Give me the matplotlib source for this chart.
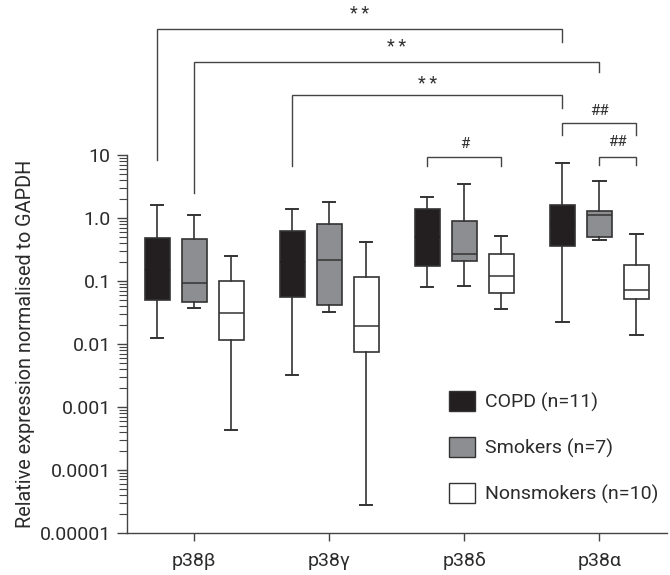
import matplotlib
matplotlib.use("Agg")
import matplotlib.pyplot as plt
from matplotlib.patches import Patch

plt.rcParams['font.family'] = ['Roboto', 'DejaVu Sans']

genes = ['p38β', 'p38γ', 'p38δ', 'p38α']
groups = ['COPD (n=11)', 'Smokers (n=7)', 'Nonsmokers (n=10)']

copd_whishi = [1.58, 1.39, 2.15, 7.46]
copd_q3 = [0.48, 0.61, 1.39, 1.62]
copd_med = [0.15, 0.20, 0.50, 0.80]
copd_q1 = [0.0495, 0.0545, 0.17, 0.353]
copd_whislo = [0.0126, 0.00318, 0.0796, 0.0221]

smk_whishi = [1.10, 1.81, 3.5, 3.86]
smk_q3 = [0.46, 0.80, 0.90, 1.29]
smk_med = [0.091, 0.214, 0.267, 1.10]
smk_q1 = [0.0466, 0.0417, 0.206, 0.502]
smk_whislo = [0.0365, 0.0315, 0.0836, 0.45]

non_whishi = [0.25, 0.414, 0.515, 0.555]
non_q3 = [0.098, 0.115, 0.264, 0.18]
non_med = [0.0311, 0.0191, 0.118, 0.0706]
non_q1 = [0.0117, 0.0073, 0.0647, 0.0519]
non_whislo = [0.000435, 2.8e-5, 0.0352, 0.0139]

# significance brackets: (gene, group) left, (gene, group) right,
# y top, y left end, y right end, label, label y
brackets = [
    ((0, 0), (3, 0), 1000, 8.3, 620, '**', 1740),
    ((0, 1), (3, 1), 300, 2.5, 207, '**', 525),
    ((1, 0), (3, 0), 91, 6.7, 55, '**', 133),
    ((3, 0), (3, 2), 31.9, 20.8, 20.8, '##', 50),
    ((2, 0), (2, 2), 9.2, 6.7, 6.7, '#', 14.8),
    ((3, 1), (3, 2), 9.2, 6.9, 6.9, '##', 16.3),
]

ytick_vals = [1e-5, 1e-4, 1e-3, 1e-2, 1e-1, 1, 10]
ytick_labels = ['0.00001', '0.0001', '0.001', '0.01', '0.1', '1.0', '10']

series = [
    (copd_whislo, copd_q1, copd_med, copd_q3, copd_whishi, '#231f20'),
    (smk_whislo, smk_q1, smk_med, smk_q3, smk_whishi, '#8d8e91'),
    (non_whislo, non_q1, non_med, non_q3, non_whishi, '#ffffff'),
]
offsets = [-0.274, 0.0, 0.274]

edge = '#333333'
fig = plt.figure(figsize=(6.7, 5.75), dpi=100)
ax = fig.add_axes([0.189, 0.0736, 0.8065, 0.6568])
ax.set_yscale('log')

for k, ((lo, q1, med, q3, hi, col), off) in enumerate(zip(series, offsets)):
    stats = []
    for i in range(len(genes)):
        stats.append(dict(whislo=lo[i], q1=q1[i], med=med[i], q3=q3[i],
                          whishi=hi[i], fliers=[]))
    pos = [i + 1 + off for i in range(len(genes))]
    mcol = col if k == 0 else edge
    ax.bxp(stats, positions=pos, widths=0.185, capwidths=0.09,
           showfliers=False, patch_artist=True,
           boxprops=dict(facecolor=col, edgecolor=edge, linewidth=1.2),
           medianprops=dict(color=mcol, linewidth=1.1),
           whiskerprops=dict(color=edge, linewidth=1.2),
           capprops=dict(color=edge, linewidth=1.4),
           manage_ticks=False)

for (gl, sl), (gr, sr), yt, yl, yr, lab, ly in brackets:
    xl = gl + 1 + offsets[sl]
    xr = gr + 1 + offsets[sr]
    ax.plot([xl, xl, xr, xr], [yl, yt, yt, yr], color='#444444', lw=1.0,
            clip_on=False, solid_joinstyle='miter')
    if lab.startswith('*'):
        ax.text((xl + xr) / 2, ly, '\u2009'.join(lab), ha='center', va='center',
                fontsize=13, color='#333333', clip_on=False,
                family=['Roboto', 'DejaVu Sans'])
    else:
        ax.text((xl + xr) / 2, ly, lab, ha='center', va='center', fontsize=11,
                color='#333333', clip_on=False)

ax.set_xlim(0.5, 4.5)
ax.set_ylim(1e-5, 10)
ax.set_xticks(range(1, len(genes) + 1))
ax.set_xticklabels(genes, fontsize=14, color='#2b2b2b')
ax.set_yticks(ytick_vals)
ax.set_yticklabels(ytick_labels, fontsize=14, color='#2b2b2b')
ax.yaxis.set_minor_locator(matplotlib.ticker.LogLocator(base=10, subs=range(2, 10), numticks=20))
ax.yaxis.set_minor_formatter(matplotlib.ticker.NullFormatter())
ax.tick_params(axis='y', which='major', length=7, width=1.0, color='#444444', pad=4.5)
ax.tick_params(axis='y', which='minor', length=5.5, width=0.8, color='#444444')
ax.tick_params(axis='x', which='major', length=6, width=1.0, color='#444444', pad=8)
ax.set_ylabel('Relative expression normalised to GAPDH', fontsize=14.3, color='#2b2b2b', labelpad=3)

for s in ['top', 'right']:
    ax.spines[s].set_visible(False)
for s in ['left', 'bottom']:
    ax.spines[s].set_color('#444444')
    ax.spines[s].set_linewidth(1.0)

handles = [Patch(facecolor=c[5], edgecolor=edge, linewidth=1.0) for c in series]
leg = ax.legend(handles, groups, loc='upper left', bbox_to_anchor=(449 / 670, 1 - 391 / 575),
                bbox_transform=fig.transFigure, frameon=False, fontsize=14,
                handlelength=1.35, handleheight=1.2, handletextpad=0.5,
                labelspacing=1.3, borderpad=0, borderaxespad=0)
for t in leg.get_texts():
    t.set_color('#2b2b2b')

fig.savefig('out.png', dpi=100)
